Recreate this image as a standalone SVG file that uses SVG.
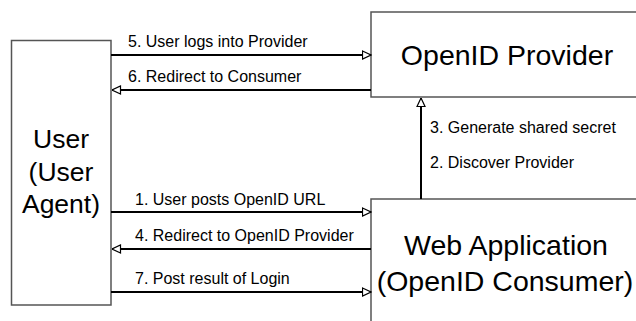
<svg xmlns="http://www.w3.org/2000/svg" width="636" height="321" viewBox="0 0 636 321">
  <style>
    .box { fill: #ffffff; stroke: #555555; stroke-width: 1.5; }
    .big { font-family: "Liberation Sans", Arial, sans-serif; font-size: 28.5px; fill: #000000; text-anchor: middle; }
    .lbl { font-family: "Liberation Sans", Arial, sans-serif; font-size: 16px; fill: #000000; }
    .wire { stroke: #000000; stroke-width: 2; fill: none; marker-end: url(#head); }
  </style>
  <defs>
    <marker id="head" viewBox="0 0 10 10" refX="9.5" refY="5" markerWidth="10" markerHeight="10" markerUnits="userSpaceOnUse" orient="auto">
      <path d="M1,1 L9.5,5 L1,9 Z" fill="#ffffff" stroke="#000000" stroke-width="1.2"/>
    </marker>
  </defs>
  <rect width="636" height="321" fill="#ffffff"/>

  <g id="user">
    <rect class="box" x="11.5" y="40.5" width="99.5" height="264.5"/>
    <text class="big" x="61" y="148" style="font-size:26.5px">User</text>
    <text class="big" x="61" y="181" style="font-size:26.5px">(User</text>
    <text class="big" x="61" y="213" style="font-size:26.5px">Agent)</text>
  </g>

  <g id="provider">
    <rect class="box" x="371" y="12" width="280" height="85"/>
    <text class="big" x="507" y="65">OpenID Provider</text>
  </g>

  <g id="consumer">
    <rect class="box" x="371" y="199" width="280" height="140"/>
    <text class="big" x="506" y="255">Web Application</text>
    <text class="big" x="505" y="291">(OpenID Consumer)</text>
  </g>

  <g id="connectors">
    <line class="wire" x1="111" y1="55" x2="371" y2="55"/>
    <line class="wire" x1="371" y1="90" x2="112" y2="90"/>
    <line class="wire" x1="111" y1="212" x2="371" y2="212"/>
    <line class="wire" x1="371" y1="249" x2="112" y2="249"/>
    <line class="wire" x1="111" y1="292" x2="371" y2="292"/>
    <line class="wire" x1="421" y1="199" x2="421" y2="98"/>
    <text class="lbl" x="128" y="47">5. User logs into Provider</text>
    <text class="lbl" x="128" y="82">6. Redirect to Consumer</text>
    <text class="lbl" x="135" y="205">1. User posts OpenID URL</text>
    <text class="lbl" x="135" y="241">4. Redirect to OpenID Provider</text>
    <text class="lbl" x="135" y="284">7. Post result of Login</text>
    <text class="lbl" x="430" y="133">3. Generate shared secret</text>
    <text class="lbl" x="430" y="168">2. Discover Provider</text>
  </g>
</svg>
